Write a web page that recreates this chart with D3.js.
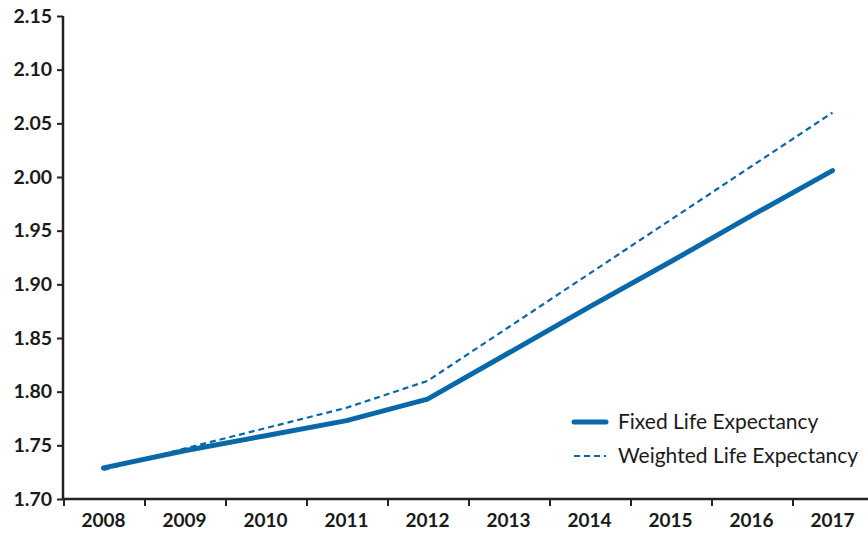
<!DOCTYPE html>
<html>
<head>
<meta charset="utf-8">
<script src="https://cdn.jsdelivr.net/npm/d3@7"></script>
<style>
  body { margin: 0; background: #fff; }
  svg text { font-family: "Lato", "Open Sans", sans-serif; fill: #1a1a1a; }
</style>
</head>
<body>
<div id="chart"></div>
<script>
const years = ["2008", "2009", "2010", "2011", "2012", "2013", "2014", "2015", "2016", "2017"];
const fixedLE = [1.729, 1.745, 1.759, 1.773, 1.793, 1.836, 1.879, 1.921, 1.964, 2.006];
const weightedLE = [1.727, 1.747, 1.766, 1.785, 1.810, 1.860, 1.910, 1.960, 2.010, 2.060];
const yTicks = [1.70, 1.75, 1.80, 1.85, 1.90, 1.95, 2.00, 2.05, 2.10, 2.15];

const width = 868, height = 536;
const plotLeft = 63, plotTop = 16, plotBottom = 499, plotRight = 873;
const blue = "#0a67a8";

const svg = d3.select("#chart").append("svg")
  .attr("width", width)
  .attr("height", height);

const x = d3.scaleBand().domain(years).range([plotLeft, plotRight]).padding(0);
const y = d3.scaleLinear().domain([1.70, 2.15]).range([plotBottom, plotTop]);

// y axis
const yAxis = svg.append("g")
  .attr("transform", `translate(${plotLeft},0)`)
  .call(d3.axisLeft(y).tickValues(yTicks).tickFormat(d3.format(".2f")).tickSize(6).tickPadding(5));
yAxis.select(".domain").attr("stroke", "#222").attr("stroke-width", 2.5).attr("d", `M0,${plotTop}V${plotBottom}`);
yAxis.selectAll(".tick line").attr("stroke", "#222").attr("stroke-width", 2);
yAxis.selectAll("text").style("font-size", "19.5px").style("font-weight", "bold").attr("fill", "#1a1a1a");

// x axis: labels centred in bands, ticks at band edges
const xAxis = svg.append("g")
  .attr("transform", `translate(0,${plotBottom})`)
  .call(d3.axisBottom(x).tickSize(0).tickPadding(15));
xAxis.select(".domain").attr("stroke", "#222").attr("stroke-width", 2.5).attr("d", `M${plotLeft},0H${width}`);
xAxis.selectAll("text").style("font-size", "19px").style("font-weight", "bold").attr("fill", "#1a1a1a");
xAxis.selectAll(".edge")
  .data(years)
  .enter().append("line")
  .attr("x1", d => x(d) + 1).attr("x2", d => x(d) + 1)
  .attr("y1", 0).attr("y2", 7)
  .attr("stroke", "#222").attr("stroke-width", 2);

const cx = d => x(d) + x.bandwidth() / 2;

const line = d3.line()
  .x((d, i) => cx(years[i]))
  .y(d => y(d));

svg.append("path")
  .datum(weightedLE)
  .attr("d", line)
  .attr("fill", "none")
  .attr("stroke", blue)
  .attr("stroke-width", 2.2)
  .attr("stroke-dasharray", "6,4");

svg.append("path")
  .datum(fixedLE)
  .attr("d", line)
  .attr("fill", "none")
  .attr("stroke", blue)
  .attr("stroke-width", 5)
  .attr("stroke-linecap", "round")
  .attr("stroke-linejoin", "round");

// legend
const legend = svg.append("g").attr("transform", "translate(572,422)");
const items = [
  { name: "Fixed Life Expectancy", w: 5, dash: null },
  { name: "Weighted Life Expectancy", w: 2.2, dash: "6,4" }
];
const li = legend.selectAll("g")
  .data(items)
  .enter().append("g")
  .attr("transform", (d, i) => `translate(0,${i * 34})`);
li.append("line")
  .attr("x1", 2).attr("x2", 34)
  .attr("y1", 0).attr("y2", 0)
  .attr("stroke", blue)
  .attr("stroke-width", d => d.w)
  .attr("stroke-linecap", d => d.dash ? "butt" : "round")
  .attr("stroke-dasharray", d => d.dash);
li.append("text")
  .attr("x", 46)
  .attr("y", 0)
  .attr("dy", "0.35em")
  .style("font-size", "21px")
  .text(d => d.name);
</script>
</body>
</html>
